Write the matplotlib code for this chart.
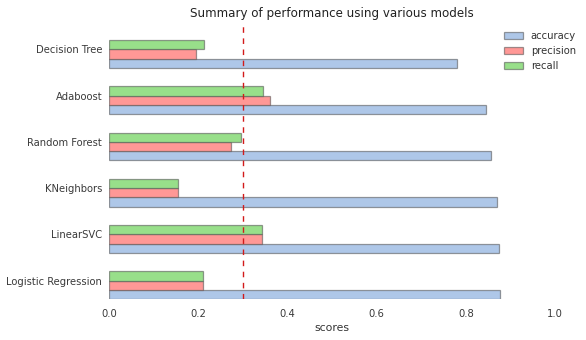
import matplotlib
matplotlib.use('Agg')
import matplotlib.pyplot as plt
import numpy as np

# Scores for each classifier
models = ['Logistic Regression', 'LinearSVC', 'KNeighbors', 'Random Forest', 'Adaboost', 'Decision Tree']
accuracy = [0.877, 0.874, 0.870, 0.856, 0.845, 0.780]
precision = [0.211, 0.342, 0.154, 0.274, 0.361, 0.195]
recall = [0.211, 0.342, 0.154, 0.296, 0.345, 0.213]

series = [('accuracy', accuracy, '#aec7e8'),
          ('precision', precision, '#ff9896'),
          ('recall', recall, '#98df8a')]

fig = plt.figure(figsize=(5.86, 3.40), dpi=100)
ax = fig.add_axes([0.186, 0.12, 0.761, 0.815])

pos = np.arange(len(models))
h = 0.2
for i, (name, vals, color) in enumerate(series):
    ax.barh(pos + (i - 1) * h, vals, height=h, color=color, label=name,
            edgecolor=(0.3, 0.3, 0.3, 0.55), linewidth=0.9)

# Threshold marker
ax.axvline(0.3, color='#d21a1a', linestyle=(0, (4, 4)), linewidth=1.0)

ax.set_xlim(0, 1.0)
ax.set_ylim(-0.3, 5.69)
ax.set_yticks(pos + h / 2)
ax.set_yticklabels(models)
ax.set_xticks([0.0, 0.2, 0.4, 0.6, 0.8, 1.0])
ax.tick_params(length=0, labelsize=7.2, colors='#3a3a3a')
ax.tick_params(axis='x', pad=7)
ax.tick_params(axis='y', pad=5)
for s in ax.spines.values():
    s.set_visible(False)

ax.set_xlabel('scores', fontsize=7.8, color='#333333', labelpad=3)
ax.set_title('Summary of performance using various models', fontsize=8.6, color='#222222', pad=3.5)

ax.legend(loc='upper left', bbox_to_anchor=(0.853, 0.92), bbox_transform=fig.transFigure,
          frameon=False, fontsize=7.2, borderaxespad=0, handlelength=1.9,
          labelcolor='#333333')

plt.savefig('out.png', dpi=100)
plt.close()
